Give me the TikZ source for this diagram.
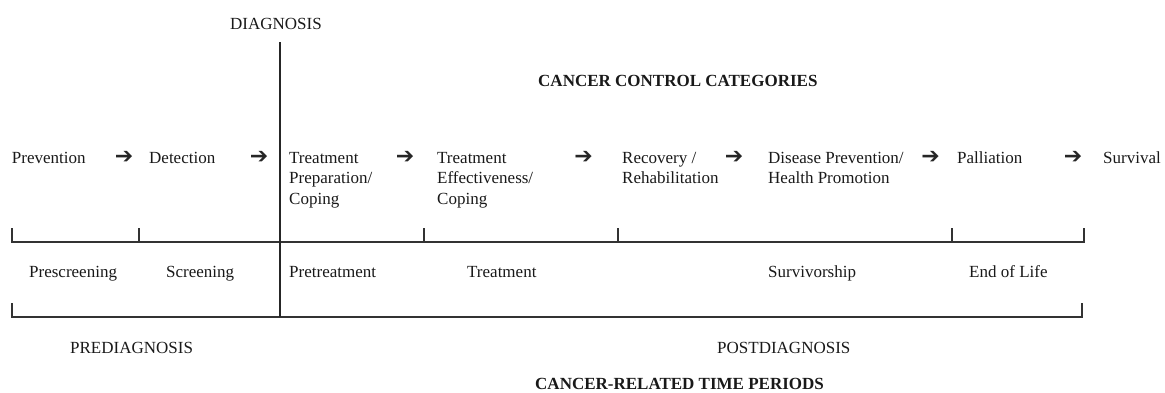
\documentclass[tikz,border=0pt]{standalone}
\usepackage{fontspec}
\setmainfont{Liberation Serif}
\newfontfamily\arrowfont{DejaVu Sans}
\newcommand{\mlines}[1]{\begin{tabular}[t]{@{}l@{}}#1\end{tabular}}
\begin{document}
\begin{tikzpicture}[x=1pt,y=-1pt,
  lbl/.style={anchor=base west,inner sep=0pt,font=\fontsize{17}{20.5}\selectfont,text=black!90},
  head/.style={lbl,font=\fontsize{17}{20.5}\selectfont\bfseries},
  arr/.style={anchor=center,inner sep=0pt,font=\arrowfont\fontsize{22}{22}\selectfont,text=black!85},
  bar/.style={draw=black!80,line width=1.5pt},
  mainline/.style={draw=black!85,line width=2pt}]
\useasboundingbox (0,0) rectangle (1165,392);
% headings
\node[lbl] (diag) at (230,29.5) {DIAGNOSIS};
\node[head] (ccc) at (538,86) {CANCER CONTROL CATEGORIES};
% cancer control categories
\node[lbl] (prev) at (11.7,163) {Prevention};
\node[lbl] (det) at (149,163) {Detection};
\node[lbl] (tpc) at (289,163) {\mlines{Treatment\\Preparation/\\Coping}};
\node[lbl] (tec) at (437,163) {\mlines{Treatment\\Effectiveness/\\Coping}};
\node[lbl] (rr) at (622,163) {\mlines{Recovery /\\Rehabilitation}};
\node[lbl] (dphp) at (768,163) {\mlines{Disease Prevention/\\Health Promotion}};
\node[lbl] (pall) at (957,163) {Palliation};
\node[lbl] (surv) at (1103,163) {Survival};
% arrows
\node[arr] (a1) at (124,157) {➔};
\node[arr] (a2) at (259,157) {➔};
\node[arr] (a3) at (405,157) {➔};
\node[arr] (a4) at (583.5,157) {➔};
\node[arr] (a5) at (734,157) {➔};
\node[arr] (a6) at (930.5,157) {➔};
\node[arr] (a7) at (1073,157) {➔};
% time periods
\node[lbl] (presc) at (29,277) {Prescreening};
\node[lbl] (scr) at (166,277) {Screening};
\node[lbl] (pret) at (289,277) {Pretreatment};
\node[lbl] (treat) at (467,277) {Treatment};
\node[lbl] (survship) at (768,277) {Survivorship};
\node[lbl] (eol) at (969,277) {End of Life};
\node[lbl] (prediag) at (70,353) {PREDIAGNOSIS};
\node[lbl] (postdiag) at (717,353) {POSTDIAGNOSIS};
\node[head] (crtp) at (535,389) {CANCER-RELATED TIME PERIODS};
% time line with ticks
\coordinate (t0) at (12,242);
\coordinate (t1) at (139,242);
\coordinate (t3) at (424,242);
\coordinate (t4) at (618,242);
\coordinate (t5) at (952,242);
\coordinate (t6) at (1084,242);
\path[bar] (12,228) -- (t0) -- (t6) -- (1084,228);
\foreach \t in {t1,t3,t4,t5} \path[bar] (\t) -- ++(0,-14);
% diagnosis split
\coordinate (b0) at (12,317);
\coordinate (b1) at (1082,317);
\path[bar] (12,303) -- (b0) -- (b1) -- (1082,303);
\coordinate (dtop) at (280,42);
\coordinate (dbot) at (280,317);
\path[mainline] (dtop) -- (dbot);
\end{tikzpicture}
\end{document}
